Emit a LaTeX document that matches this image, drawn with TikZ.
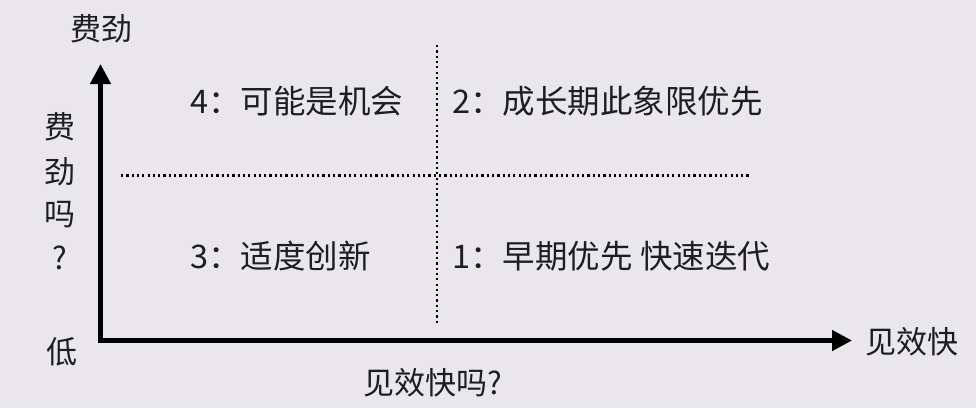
\documentclass[tikz,border=0pt]{standalone}
\usepackage{fontspec}
\setmainfont{Noto Sans CJK SC}
\usetikzlibrary{arrows.meta}
\definecolor{bgc}{RGB}{233,231,236}
\definecolor{txt}{RGB}{30,30,30}
\tikzset{
  axis/.style={line width=4.5pt, -{Triangle[length=20pt,width=20pt]}},
  dotline/.style={line width=2.2pt, color=black, dash pattern=on 2.2pt off 3.1pt},
  lbl/.style={inner sep=0pt, text=txt, font=\fontsize{31}{31}\selectfont},
  quad/.style={inner sep=0pt, anchor=west, text=txt, font=\fontsize{32.5}{32.5}\selectfont}
}
\begin{document}
\begin{tikzpicture}[x=1pt,y=-1pt]
\fill[bgc] (0,0) rectangle (976,408);
\useasboundingbox (0,0) rectangle (976,408);
% axes
\coordinate (o) at (100.5,340.5);
\coordinate (ytip) at (100.5,64);
\coordinate (xtip) at (852,340.5);
\draw[axis] ([yshift=-2.25pt]o) -- (ytip);
\draw[axis] ([xshift=-2.25pt]o) -- (xtip);
% dotted dividers
\coordinate (vt) at (437,45);
\coordinate (vb) at (437,324);
\coordinate (hl) at (121,175.5);
\coordinate (hr) at (751,175.5);
\draw[dotline] (vt) -- (vb);
\draw[dotline] (hl) -- (hr);
% axis labels
\node[lbl] (ttop) at (101,29) {费劲};
\node[lbl] (l1) at (60,127) {费};
\node[lbl] (l2) at (60,172) {劲};
\node[lbl] (l3) at (60,215) {吗};
\node[lbl] (l4) at (60,258) {?};
\node[lbl] (low) at (62,352) {低};
\node[lbl, anchor=west] (xr) at (865,342) {见效快};
\node[lbl] (xb) at (433,383) {见效快吗?};
% quadrants
\node[quad] (q4) at (190,101) {4：可能是机会};
\node[quad] (q2) at (452,101) {2：成长期此象限优先};
\node[quad] (q3) at (190,256) {3：适度创新};
\node[quad] (q1) at (452,256) {1：早期优先 快速迭代};
\end{tikzpicture}
\end{document}
